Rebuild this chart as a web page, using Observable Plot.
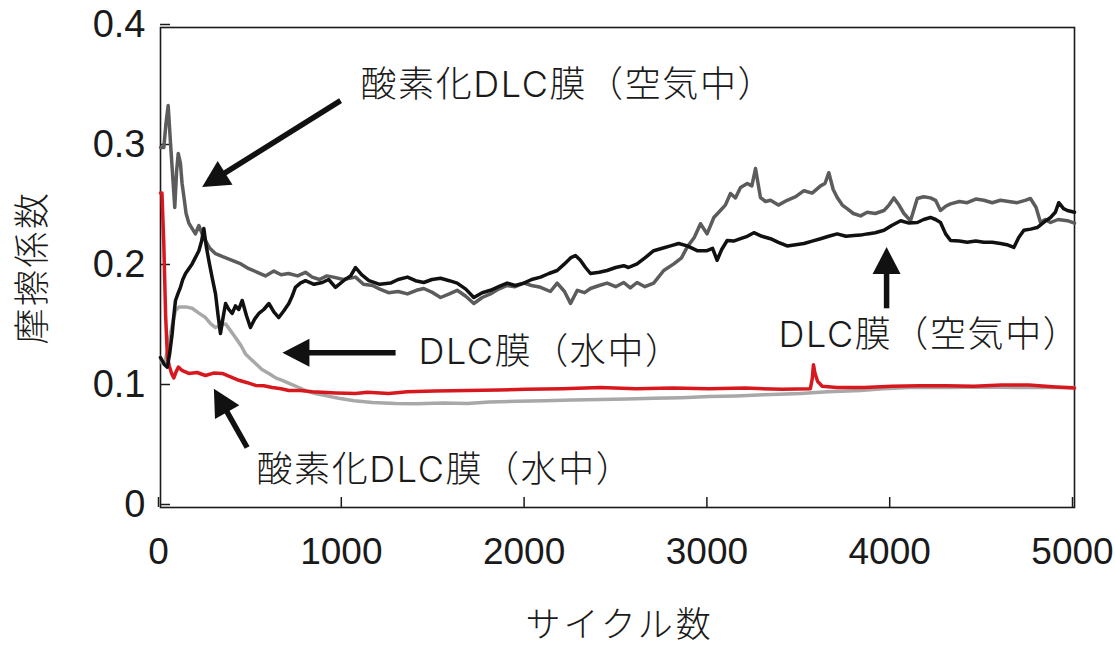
<!DOCTYPE html>
<html><head><meta charset="utf-8">
<script src="https://cdn.jsdelivr.net/npm/d3@7"></script>
<script src="https://cdn.jsdelivr.net/npm/@observablehq/plot@0.6"></script>
<style>
body{margin:0;background:#fff}
</style>
</head><body><div id="chart"></div>
<script>
// ---- data (cycles, friction coefficient) ----
const xTicks = [0, 1000, 2000, 3000, 4000, 5000];
const yTicks = [0, 0.1, 0.2, 0.3, 0.4];
const xTitle = "サイクル数";
const yTitle = "摩擦係数";

// 酸素化DLC膜（空気中） dark gray
const oxAir = [[0,0.300],[18,0.300],[30,0.32],[42,0.335],[55,0.303],[65,0.28],[78,0.25],[88,0.28],[97,0.295],[109,0.287],[118,0.27],[128,0.259],[140,0.245],[155,0.237],[175,0.232],[191,0.228],[210,0.235],[228,0.228],[246,0.2225],[270,0.216],[301,0.2115],[340,0.209],[392,0.206],[440,0.203],[483,0.199],[530,0.196],[574,0.193],[620,0.197],[660,0.194],[700,0.195],[750,0.193],[793,0.196],[830,0.192],[870,0.19],[910,0.193],[946,0.192],[1000,0.19],[1067,0.192],[1110,0.186],[1160,0.185],[1200,0.182],[1247,0.179],[1300,0.18],[1351,0.178],[1400,0.181],[1440,0.1825],[1490,0.179],[1532,0.175],[1580,0.178],[1623,0.181],[1670,0.176],[1714,0.17],[1760,0.175],[1805,0.178],[1850,0.182],[1896,0.185],[1940,0.184],[1988,0.187],[2030,0.185],[2079,0.1835],[2133,0.18],[2170,0.187],[2210,0.18],[2243,0.17],[2280,0.181],[2320,0.179],[2352,0.1825],[2400,0.185],[2443,0.187],[2490,0.184],[2534,0.1875],[2570,0.183],[2607,0.1875],[2650,0.184],[2698,0.187],[2753,0.1975],[2808,0.203],[2850,0.208],[2881,0.217],[2920,0.225],[2954,0.2365],[2990,0.228],[3027,0.2417],[3063,0.2475],[3090,0.252],[3118,0.2617],[3145,0.258],[3173,0.2667],[3210,0.27],[3235,0.268],[3255,0.2825],[3282,0.2583],[3310,0.255],[3337,0.256],[3380,0.252],[3428,0.256],[3475,0.259],[3520,0.264],[3565,0.262],[3611,0.268],[3635,0.27],[3656,0.279],[3680,0.265],[3702,0.2583],[3730,0.252],[3756,0.249],[3790,0.245],[3830,0.243],[3866,0.246],[3910,0.245],[3958,0.2475],[3985,0.252],[4012,0.258],[4040,0.252],[4067,0.245],[4103,0.239],[4125,0.25],[4140,0.2575],[4175,0.259],[4212,0.258],[4240,0.256],[4267,0.2475],[4295,0.251],[4322,0.253],[4370,0.255],[4413,0.254],[4460,0.257],[4504,0.256],[4550,0.254],[4595,0.256],[4640,0.255],[4687,0.254],[4730,0.256],[4759,0.2575],[4790,0.25],[4814,0.2375],[4840,0.24],[4869,0.2375],[4910,0.24],[4961,0.239],[5000,0.237]];

// DLC膜（空気中） black
const dlcAir = [[0,0.125],[9,0.1225],[22,0.119],[37,0.117],[50,0.128],[64,0.145],[73,0.16],[82,0.1725],[95,0.178],[109,0.1835],[122,0.19],[137,0.195],[155,0.199],[173,0.203],[190,0.208],[210,0.214],[225,0.222],[237,0.2325],[250,0.218],[264,0.206],[282,0.192],[301,0.178],[315,0.16],[328,0.145],[342,0.158],[356,0.17],[374,0.165],[392,0.1617],[410,0.168],[428,0.165],[447,0.1725],[470,0.16],[492,0.15],[515,0.157],[538,0.1617],[565,0.165],[593,0.17],[620,0.163],[647,0.1583],[675,0.164],[702,0.17],[720,0.176],[738,0.1835],[765,0.187],[793,0.189],[840,0.186],[885,0.1875],[920,0.19],[957,0.1835],[1010,0.19],[1040,0.193],[1067,0.2],[1100,0.194],[1140,0.189],[1200,0.186],[1258,0.187],[1300,0.19],[1351,0.192],[1395,0.189],[1440,0.1875],[1485,0.19],[1532,0.191],[1580,0.189],[1623,0.187],[1670,0.182],[1714,0.175],[1760,0.179],[1805,0.181],[1850,0.184],[1896,0.187],[1940,0.185],[1988,0.187],[2030,0.19],[2079,0.192],[2125,0.195],[2170,0.1975],[2210,0.203],[2243,0.208],[2270,0.21],[2297,0.206],[2325,0.2],[2352,0.195],[2400,0.196],[2443,0.1975],[2490,0.2],[2534,0.2015],[2560,0.2],[2607,0.203],[2650,0.208],[2698,0.214],[2745,0.216],[2790,0.218],[2835,0.22],[2881,0.218],[2936,0.214],[2990,0.214],[3020,0.216],[3045,0.206],[3070,0.215],[3100,0.2225],[3135,0.222],[3173,0.224],[3210,0.226],[3246,0.229],[3290,0.226],[3337,0.224],[3380,0.221],[3428,0.218],[3475,0.219],[3520,0.22],[3565,0.222],[3611,0.224],[3655,0.226],[3702,0.228],[3750,0.226],[3793,0.2267],[3830,0.227],[3866,0.228],[3910,0.229],[3958,0.231],[4000,0.235],[4049,0.239],[4095,0.237],[4140,0.2375],[4175,0.24],[4212,0.2417],[4240,0.24],[4267,0.2375],[4295,0.228],[4322,0.2225],[4370,0.222],[4413,0.221],[4460,0.222],[4504,0.221],[4550,0.221],[4595,0.22],[4630,0.219],[4668,0.2167],[4695,0.225],[4723,0.231],[4760,0.232],[4796,0.2333],[4835,0.238],[4869,0.2417],[4895,0.246],[4914,0.254],[4940,0.249],[4961,0.2475],[5000,0.246]];

// DLC膜（水中） light gray
const dlcWater = [[0,0.125],[9,0.12],[25,0.122],[40,0.132],[55,0.145],[68,0.155],[82,0.164],[100,0.167],[119,0.167],[145,0.167],[173,0.166],[210,0.162],[246,0.1583],[275,0.153],[301,0.15],[330,0.152],[356,0.153],[385,0.147],[410,0.1417],[440,0.135],[465,0.128],[492,0.124],[520,0.12],[555,0.115],[593,0.1117],[630,0.108],[666,0.106],[710,0.103],[757,0.1],[800,0.097],[848,0.095],[910,0.093],[975,0.091],[1060,0.089],[1160,0.0875],[1286,0.0867],[1400,0.0865],[1550,0.087],[1678,0.0867],[1800,0.088],[1950,0.0885],[2100,0.089],[2250,0.0895],[2407,0.09],[2550,0.0905],[2700,0.091],[2850,0.0915],[3000,0.0925],[3150,0.093],[3300,0.094],[3501,0.095],[3650,0.0965],[3830,0.0975],[3950,0.099],[4100,0.1],[4300,0.1],[4500,0.1005],[4700,0.1],[4850,0.1],[5000,0.1]];

// 酸素化DLC膜（水中） red
const oxWater = [[0,0.262],[8,0.262],[18,0.22],[28,0.16],[38,0.125],[48,0.118],[60,0.112],[73,0.108],[85,0.113],[98,0.117],[120,0.114],[155,0.1117],[200,0.1125],[246,0.11],[290,0.112],[338,0.1117],[380,0.109],[429,0.106],[475,0.104],[520,0.1017],[565,0.1015],[611,0.1],[660,0.099],[702,0.0975],[766,0.0975],[830,0.0965],[884,0.096],[960,0.0955],[1067,0.095],[1131,0.096],[1249,0.095],[1350,0.0965],[1500,0.097],[1678,0.0975],[1850,0.098],[2000,0.0985],[2200,0.099],[2407,0.1],[2600,0.099],[2800,0.0995],[3000,0.099],[3200,0.0995],[3400,0.0985],[3555,0.099],[3565,0.107],[3572,0.119],[3580,0.112],[3595,0.105],[3620,0.101],[3700,0.1],[3850,0.1],[4000,0.101],[4150,0.1015],[4300,0.1015],[4450,0.101],[4600,0.102],[4750,0.102],[4900,0.1005],[5000,0.0995]];

// annotation labels
const labelText = ["酸素化DLC膜（空気中）", "DLC膜（水中）", "酸素化DLC膜（水中）", "DLC膜（空気中）"];
const labelX = [1094, 1411, 525, 3381];
const labelY = [0.352, 0.129, 0.031, 0.143];
// annotation arrows (tail -> tip)
const arrowX1 = [985, 1286, 474, 3972];
const arrowY1 = [0.339, 0.129, 0.050, 0.166];
const arrowX2 = [228, 667, 292, 3972];
const arrowY2 = [0.267, 0.129, 0.099, 0.217];

// ---- build ----
const toRows = (arr) => arr.map(([x, y]) => ({x, y}));
const labels = labelText.map((t, i) => ({t, x: labelX[i], y: labelY[i]}));
const arrows = arrowX1.map((x1, i) => ({x1, y1: arrowY1[i], x2: arrowX2[i], y2: arrowY2[i]}));

function arrowRender(index, scales, values, dimensions, context, next) {
  const HL = 27, HW = 14;
  const X1 = values.x1, Y1 = values.y1, X2 = values.x2, Y2 = values.y2;
  const sx2 = Array.from(X2), sy2 = Array.from(Y2);
  const heads = [];
  for (const i of index) {
    const dx = X2[i] - X1[i], dy = Y2[i] - Y1[i], L = Math.hypot(dx, dy);
    const ux = dx / L, uy = dy / L;
    const bx = X2[i] - ux * HL, by = Y2[i] - uy * HL;
    sx2[i] = X2[i] - ux * (HL - 2); sy2[i] = Y2[i] - uy * (HL - 2);
    heads.push(`${X2[i]},${Y2[i]} ${bx - uy * HW},${by + ux * HW} ${bx + uy * HW},${by - ux * HW}`);
  }
  const g = next(index, scales, {...values, x2: sx2, y2: sy2}, dimensions, context);
  const ns = "http://www.w3.org/2000/svg";
  for (const pts of heads) {
    const p = document.createElementNS(ns, "polygon");
    p.setAttribute("points", pts);
    p.setAttribute("fill", "#111");
    p.setAttribute("stroke", "none");
    g.appendChild(p);
  }
  return g;
}

const FONT = '"Liberation Sans","Noto Sans CJK JP",sans-serif';
const JFONT = 'Inter,"Noto Sans CJK JP",sans-serif';
const INK = "#1a1a1a";

const chart = Plot.plot({
  width: 1115, height: 645,
  marginLeft: 160, marginRight: 41, marginTop: 27, marginBottom: 138,
  style: {fontFamily: FONT, fontSize: "36px", color: INK, background: "#fff", overflow: "visible"},
  x: {domain: [0, 5000]},
  y: {domain: [0, 0.4]},
  marks: [
    Plot.frame({stroke: INK, strokeWidth: 1.6}),
    Plot.axisX({ticks: xTicks, tickSize: -10, tickPadding: 40, tickFormat: d => String(d), label: null, fontSize: 37, strokeWidth: 1.5, dx: -2}),
    Plot.axisY({ticks: yTicks, tickSize: -10, tickPadding: 25, tickFormat: d => d === 0 ? "0" : d.toFixed(1), label: null, fontSize: 38, dy: -3, strokeWidth: 1.5}),
    Plot.text([xTitle], {frameAnchor: "bottom", dy: 118, dx: 2, textAnchor: "middle", lineAnchor: "middle", text: d => d, fontSize: 35, fontWeight: 300, fontFamily: JFONT, fill: INK}),
    Plot.text([yTitle], {frameAnchor: "left", dx: -127, rotate: -90, textAnchor: "middle", lineAnchor: "middle", text: d => d, fontSize: 36, fontWeight: 300, fontFamily: JFONT, fill: INK}),
    Plot.line(toRows(dlcWater), {x: "x", y: "y", stroke: "#a8a8a8", strokeWidth: 3.5, curve: "linear"}),
    Plot.line(toRows(oxWater), {x: "x", y: "y", stroke: "#d7191f", strokeWidth: 3.5, curve: "linear"}),
    Plot.line(toRows(oxAir), {x: "x", y: "y", stroke: "#5c5c5c", strokeWidth: 3.5, curve: "linear"}),
    Plot.line(toRows(dlcAir), {x: "x", y: "y", stroke: "#111", strokeWidth: 3.5, curve: "linear"}),
    Plot.link(arrows, {x1: "x1", y1: "y1", x2: "x2", y2: "y2", stroke: "#111", strokeWidth: 5.5, render: arrowRender}),
    Plot.text(labels, {x: "x", y: "y", text: "t", textAnchor: "start", lineAnchor: "middle", fontSize: 36, fontWeight: 300, fontFamily: JFONT, fill: INK})
  ]
});
// letter spacing for the annotation and axis-title texts
d3.select(chart).selectAll("text").each(function () {
  const s = this.textContent;
  if (labelText.includes(s)) this.setAttribute("letter-spacing", "1.6");
  else if (s === xTitle) this.setAttribute("letter-spacing", "3");
  else if (s === yTitle) this.setAttribute("letter-spacing", "2.5");
});
document.getElementById("chart").appendChild(chart);
</script>
</body></html>
